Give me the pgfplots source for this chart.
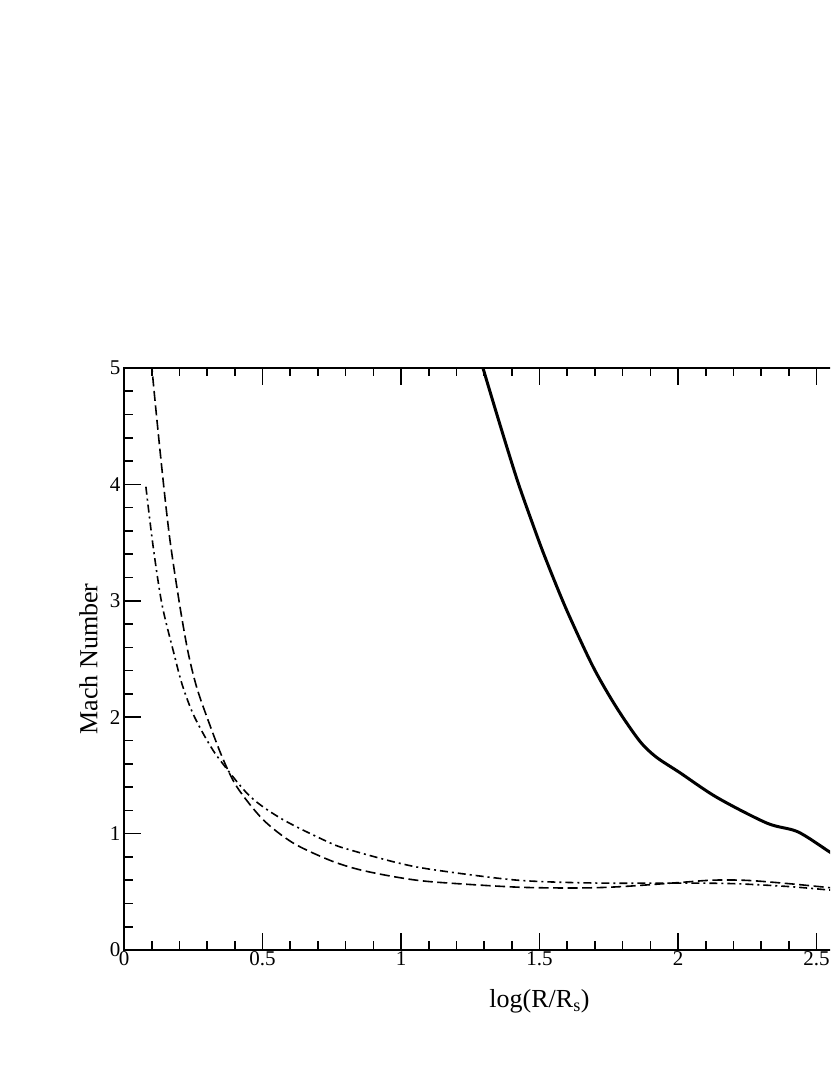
\documentclass[border=0pt]{standalone}
\usepackage{fontspec}
\setmainfont{Liberation Serif}
\usepackage{pgfplots}
\pgfplotsset{compat=1.18}
\begin{document}
\begin{tikzpicture}[x=1pt,y=1pt]
\clip (0,0) rectangle (830,1075);
\path[fill=white] (0,0) rectangle (830,1075);
\begin{axis}[
  at={(124pt,125pt)}, anchor=south west,
  scale only axis, width=831pt, height=582pt,
  xmin=0, xmax=3, ymin=0, ymax=5,
  xtick={0,0.5,1,1.5,2,2.5,3}, ytick={0,1,2,3,4,5},
  xticklabels={0,0.5,1,1.5,2,2.5,3},
  minor x tick num=4, minor y tick num=4,
  tick align=inside, major tick length=17pt, minor tick length=8.5pt,
  axis line style={line width=2pt},
  every tick/.style={black, line width=1.6pt},
  tick label style={font=\fontsize{21}{21}\selectfont},
  /pgf/number format/assume math mode=true,
  xticklabel style={yshift=2pt},
  xlabel={log(R/R\textsubscript{s})},
  ylabel={Mach Number},
  xlabel style={at={(axis description cs:0.5,0)}, anchor=base, yshift=-58pt, font=\fontsize{26}{26}\selectfont},
  ylabel style={at={(axis description cs:0,0.5)}, anchor=center, yshift=35.5pt, font=\fontsize{26}{26}\selectfont},
]
\addplot[black, line width=3pt, smooth, tension=0.5] coordinates {
(1.280,5.15) (1.296,5.0) (1.359,4.50) (1.422,4.02) (1.483,3.61) (1.523,3.356)
(1.597,2.926) (1.693,2.435) (1.776,2.091) (1.860,1.80) (1.920,1.66) (2.007,1.523)
(2.141,1.31) (2.321,1.09) (2.433,1.015) (2.549,0.84) (2.60,0.77)
};
\addplot[black, line width=1.6pt, dash pattern=on 10pt off 4.5pt, smooth, tension=0.5] coordinates {
(0.097,5.3) (0.101,5.0) (0.137,4.13) (0.166,3.52) (0.202,2.95) (0.232,2.55)
(0.262,2.26) (0.298,2.01) (0.354,1.66) (0.408,1.40) (0.502,1.12) (0.610,0.92)
(0.744,0.77) (0.850,0.69) (0.986,0.625) (1.116,0.585) (1.419,0.54)
(1.646,0.533) (1.800,0.545) (2.007,0.58) (2.126,0.60) (2.25,0.598)
(2.40,0.57) (2.549,0.535) (2.60,0.52)
};
\addplot[black, line width=1.6pt, dash pattern=on 8pt off 4pt on 2pt off 4pt, smooth, tension=0.5] coordinates {
(0.079,3.98) (0.105,3.47) (0.137,2.97) (0.180,2.55) (0.210,2.28) (0.249,2.03)
(0.300,1.80) (0.347,1.63) (0.455,1.32) (0.574,1.12) (0.744,0.92) (0.816,0.86)
(0.986,0.75) (1.116,0.69) (1.419,0.60) (1.708,0.575) (2.0,0.575)
(2.2,0.57) (2.4,0.545) (2.549,0.515) (2.60,0.51)
};
\end{axis}
\end{tikzpicture}
\end{document}
